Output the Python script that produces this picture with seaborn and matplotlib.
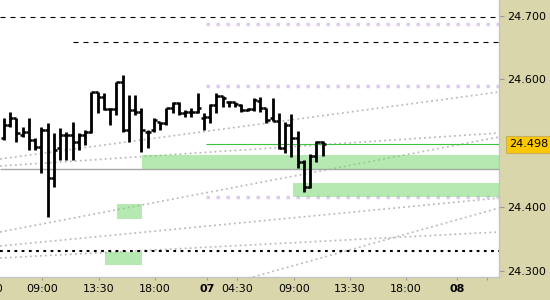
import numpy as np
import pandas as pd
import matplotlib
matplotlib.use("Agg")
import matplotlib.pyplot as plt
import matplotlib.transforms as mtransforms
import seaborn as sns

# ---------------- data ----------------
bar_open = [24.508, 24.529, 24.540, 24.513, 24.518, 24.505, 24.494, 24.521, 24.445, 24.492,
            24.513, 24.513, 24.502, 24.513, 24.518, 24.580, 24.573, 24.554, 24.554, 24.596,
            24.521, 24.552, 24.549, 24.518, 24.521, 24.533, 24.532, 24.555, 24.563, 24.547,
            24.549, 24.549, 24.540, 24.541, 24.560, 24.574, 24.565, 24.565, 24.560, 24.552,
            24.554, 24.566, 24.555, 24.540, 24.535, 24.492, 24.529, 24.508, 24.471, 24.432,
            24.480, 24.502]
bar_high = [24.540, 24.549, 24.540, 24.525, 24.540, 24.508, 24.525, 24.532, 24.516, 24.524,
            24.518, 24.533, 24.516, 24.521, 24.580, 24.580, 24.579, 24.555, 24.596, 24.607,
            24.576, 24.576, 24.555, 24.521, 24.540, 24.533, 24.555, 24.565, 24.565, 24.552,
            24.555, 24.579, 24.547, 24.562, 24.579, 24.574, 24.566, 24.565, 24.562, 24.555,
            24.571, 24.573, 24.555, 24.571, 24.547, 24.533, 24.546, 24.519, 24.474, 24.483,
            24.503, 24.503]
bar_low = [24.505, 24.525, 24.502, 24.510, 24.489, 24.489, 24.453, 24.384, 24.431, 24.474,
           24.474, 24.474, 24.489, 24.497, 24.516, 24.547, 24.552, 24.529, 24.544, 24.518,
           24.502, 24.544, 24.486, 24.492, 24.518, 24.521, 24.529, 24.547, 24.544, 24.541,
           24.541, 24.547, 24.521, 24.532, 24.547, 24.557, 24.557, 24.557, 24.549, 24.551,
           24.551, 24.549, 24.532, 24.535, 24.491, 24.485, 24.478, 24.461, 24.423, 24.430,
           24.471, 24.480]
bar_close = [24.529, 24.540, 24.516, 24.518, 24.505, 24.494, 24.521, 24.445, 24.489, 24.513,
             24.513, 24.502, 24.513, 24.518, 24.580, 24.573, 24.554, 24.554, 24.596, 24.521,
             24.552, 24.549, 24.521, 24.518, 24.536, 24.532, 24.555, 24.563, 24.547, 24.549,
             24.549, 24.555, 24.541, 24.560, 24.574, 24.571, 24.565, 24.562, 24.552, 24.554,
             24.568, 24.555, 24.536, 24.535, 24.492, 24.529, 24.508, 24.471, 24.431, 24.480,
             24.502, 24.498]

tick_pos = [6.08, 15.2, 24.16, 32.48, 37.28, 46.4, 55.36, 64.32, 72.48, 77.28]
tick_labels = ["09:00", "13:30", "18:00", "07", "04:30", "09:00", "13:30", "18:00", "08", ""]
bold_labels = ["07", "08"]

y_ticks = [24.3, 24.4, 24.6, 24.7]
last_price = 24.498

# horizontal levels
dashed_prices = [24.698, 24.658]
dashed_start = [-0.64, 11.0]
lavender_prices = [24.687, 24.590, 24.416]
lavender_start = [32.3, 32.3, 32.3]
dotted_price = 24.331
gray_price = 24.460
green_price = 24.498
green_start = 32.3

# zones: x0, x1, low, high
zone_x0 = [22.08, 46.24, 18.08, 16.16]
zone_x1 = [79.2, 79.2, 22.08, 22.08]
zone_lo = [24.4595, 24.4156, 24.3811, 24.3089]
zone_hi = [24.4815, 24.4375, 24.4046, 24.3293]

# trend lines: x0, p0, x1, p1
trend_x0 = [-0.64, -0.64, -0.64, -0.64, -0.64, 39.84]
trend_p0 = [24.4752, 24.4642, 24.3607, 24.3387, 24.3199, 24.2901]
trend_x1 = [79.2, 79.2, 79.2, 79.2, 79.2, 79.2]
trend_p1 = [24.5803, 24.5160, 24.5097, 24.4140, 24.3607, 24.3983]

XMIN, XMAX = -0.64, 79.2
YMIN, YMAX = 24.2901, 24.7246

# ---------------- style ----------------
sns.set_theme(style="white")
plt.rcParams["font.family"] = ["DejaVu Sans"]
plt.rcParams["lines.scale_dashes"] = False

BG = "#d9d6ab"
fig = plt.figure(figsize=(5.5, 3), dpi=100, facecolor=BG)
ax = fig.add_axes([0, 23 / 300, 499 / 550, 277 / 300])
ax.set_facecolor("white")

# trend lines via seaborn
rows = []
for k in range(len(trend_x0)):
    rows.append({"x": trend_x0[k], "price": trend_p0[k], "line": k})
    rows.append({"x": trend_x1[k], "price": trend_p1[k], "line": k})
tdf = pd.DataFrame(rows)
sns.lineplot(data=tdf, x="x", y="price", units="line", estimator=None,
             color="#b8b8b8", linewidth=1.2, linestyle=(0, (1.3, 2.3)),
             ax=ax, legend=False, zorder=2)

# horizontal levels
for p, s in zip(dashed_prices, dashed_start):
    ax.hlines(p, s, XMAX, color="black", linewidth=0.8,
              linestyles=[(0, (3.6, 3.6))], zorder=3)
for p, s in zip(lavender_prices, lavender_start):
    ax.hlines(p, s, XMAX, color="#e0cbf0", linewidth=2.5,
              linestyles=[(0, (2.5, 4.7))], zorder=2)
ax.hlines(dotted_price, XMIN, XMAX, color="black", linewidth=1.5,
          linestyles=[(0, (2.0, 3.2))], zorder=3)
ax.hlines(gray_price, XMIN, XMAX, color="#a8a8a8", linewidth=1.0, zorder=3)
ax.hlines(green_price, green_start, XMAX, color="#3cc43c", linewidth=0.8, zorder=3)

# zones (semi-transparent green)
for x0, x1, lo, hi in zip(zone_x0, zone_x1, zone_lo, zone_hi):
    ax.fill_between([x0, x1], [lo, lo], [hi, hi], color="#6fd565", alpha=0.5,
                    linewidth=0, zorder=4)

# OHLC bars
idx = np.arange(len(bar_open))
tl = 0.5
ax.vlines(idx, bar_low, bar_high, color="black", linewidth=2.0, zorder=5)
ax.hlines(bar_open, idx - tl, idx, color="black", linewidth=1.8, zorder=5)
ax.hlines(bar_close, idx, idx + tl, color="black", linewidth=1.8, zorder=5)

ax.set_xlim(XMIN, XMAX)
ax.set_ylim(YMIN, YMAX)
ax.set_xlabel("")
ax.set_ylabel("")

# axes ticks
ax.yaxis.tick_right()
ax.set_yticks(y_ticks)
ax.set_yticklabels([f"{v:.3f}" for v in y_ticks])
ax.tick_params(axis="y", which="both", right=True, left=False, direction="out",
               length=3.6, width=0.8, color="#9a9a9a", pad=2.2, labelsize=8,
               labelcolor="black")
ax.set_xticks(tick_pos)
ax.set_xticklabels(tick_labels)
for lab in ax.get_xticklabels():
    if lab.get_text() in bold_labels:
        lab.set_fontweight("bold")
ax.tick_params(axis="x", which="both", bottom=True, direction="out",
               length=2.2, width=0.8, color="#9a9a9a", pad=2.5, labelsize=8,
               labelcolor="black")

for side in ["top", "left"]:
    ax.spines[side].set_visible(False)
for side in ["right", "bottom"]:
    ax.spines[side].set_visible(True)
    ax.spines[side].set_color("#c4c4c4")
    ax.spines[side].set_linewidth(1.0)

# partial label at left edge (cut by the figure edge, as in the reference)
trans_x = mtransforms.blended_transform_factory(ax.transData, ax.transAxes)
ax.text(-2.72, 0, "04:30", fontsize=8, color="black", ha="center", va="top",
        clip_on=False,
        transform=mtransforms.offset_copy(trans_x, fig=fig, x=0, y=-4.7, units="points"))

# last price box
trans_y = mtransforms.blended_transform_factory(ax.transAxes, ax.transData)
ax.text(1.02, last_price, f"{last_price:.3f}", transform=trans_y, ha="left",
        va="center", fontsize=8, color="black", clip_on=False, zorder=10,
        bbox=dict(boxstyle="square,pad=0.3", facecolor="#fcc800",
                  edgecolor="#c9b060", linewidth=0.8))

fig.savefig("out.png", dpi=100, facecolor=BG)
